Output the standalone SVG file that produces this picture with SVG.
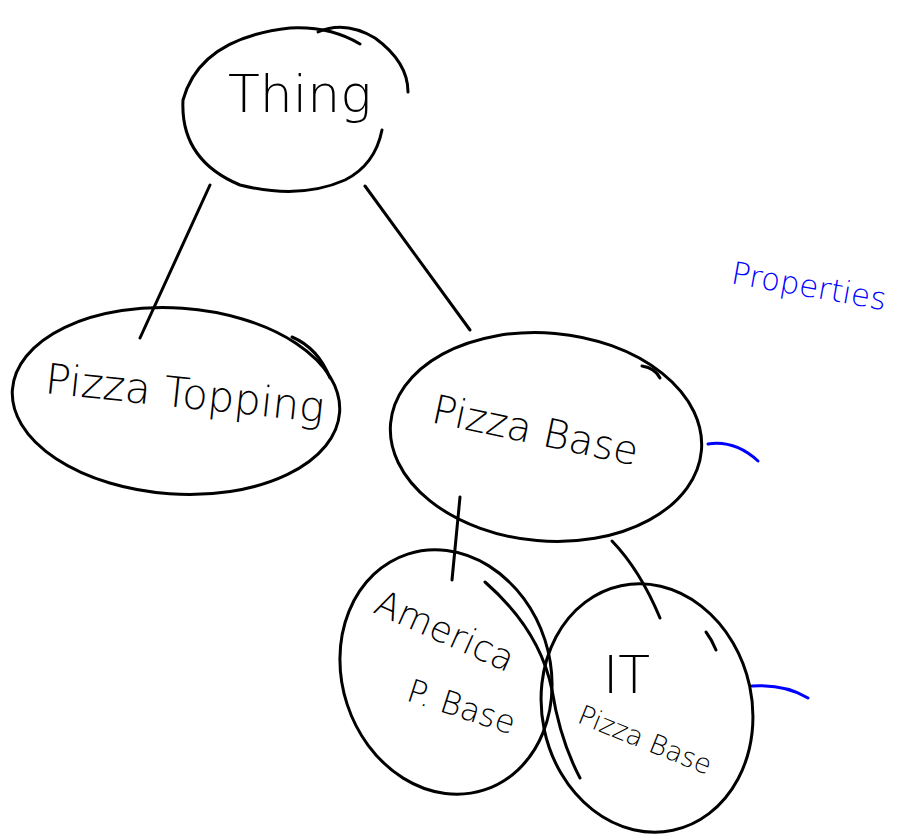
<svg xmlns="http://www.w3.org/2000/svg" width="907" height="834" viewBox="0 0 907 834">
<style>
.ink{fill:none;stroke:#000;stroke-width:3;stroke-linecap:round;stroke-linejoin:round}
.blue{fill:none;stroke:#0000ff;stroke-width:3;stroke-linecap:round}
.lbl{font-family:"DejaVu Sans","Liberation Sans",sans-serif;fill:#000;font-weight:300}
.btxt{font-family:"DejaVu Sans","Liberation Sans",sans-serif;fill:#0000ff;font-weight:300}
</style>
<rect width="907" height="834" fill="#fff"/>
<g id="connectors">
<path class="ink" d="M210,185 L140,338"/>
<path class="ink" d="M365,186 L470,330"/>
<path class="ink" d="M460,497 Q456,540 452,580"/>
<path class="ink" d="M612,541 Q640,570 660,618"/>
<path class="blue" d="M708,444 Q735,440 758,461"/>
<path class="blue" d="M752,686 Q785,684 808,698"/>
</g>
<g id="thing">
<path class="ink" d="M318,32 Q345,20 375,38 Q408,62 408,92"/>
<path class="ink" d="M360,44 Q330,26 290,28 Q200,38 183,100 Q180,160 240,185 Q300,200 345,180 Q375,165 382,130"/>
<text class="lbl" x="228" y="112" font-size="52">Thing</text>
</g>
<g id="pizza-topping">
<ellipse class="ink" cx="176" cy="401" rx="164" ry="93" transform="rotate(4 176 401)"/>
<path class="ink" d="M292,337 Q318,348 330,378"/>
<text class="lbl" x="44" y="393" font-size="42" transform="rotate(6 44 393)">Pizza Topping</text>
</g>
<g id="pizza-base">
<ellipse class="ink" cx="546" cy="437" rx="156" ry="104" transform="rotate(5 546 437)"/>
<path class="ink" d="M642,366 Q655,368 660,378"/>
<text class="lbl" x="430" y="422" font-size="40" transform="rotate(12 430 422)">Pizza Base</text>
</g>
<g id="america-p-base">
<ellipse class="ink" cx="446" cy="672" rx="104" ry="124" transform="rotate(-18 446 672)"/>
<path class="ink" d="M485,582 Q540,630 552,690 Q560,740 580,778"/>
<text class="lbl" x="372" y="612" font-size="36" transform="rotate(24 372 612)">America</text>
<text class="lbl" x="405" y="700" font-size="32" transform="rotate(18 405 700)">P. Base</text>
</g>
<g id="it-pizza-base">
<ellipse class="ink" cx="647" cy="708" rx="105" ry="125" transform="rotate(-12 647 708)"/>
<path class="ink" d="M706,632 Q712,640 716,650"/>
<text class="lbl" x="603" y="693" font-size="52">IT</text>
<text class="lbl" x="576" y="722" font-size="27" transform="rotate(22 576 722)">Pizza Base</text>
</g>
<g id="properties">
<text class="btxt" x="730" y="283" font-size="31" transform="rotate(10 730 283)">Properties</text>
</g>
</svg>
